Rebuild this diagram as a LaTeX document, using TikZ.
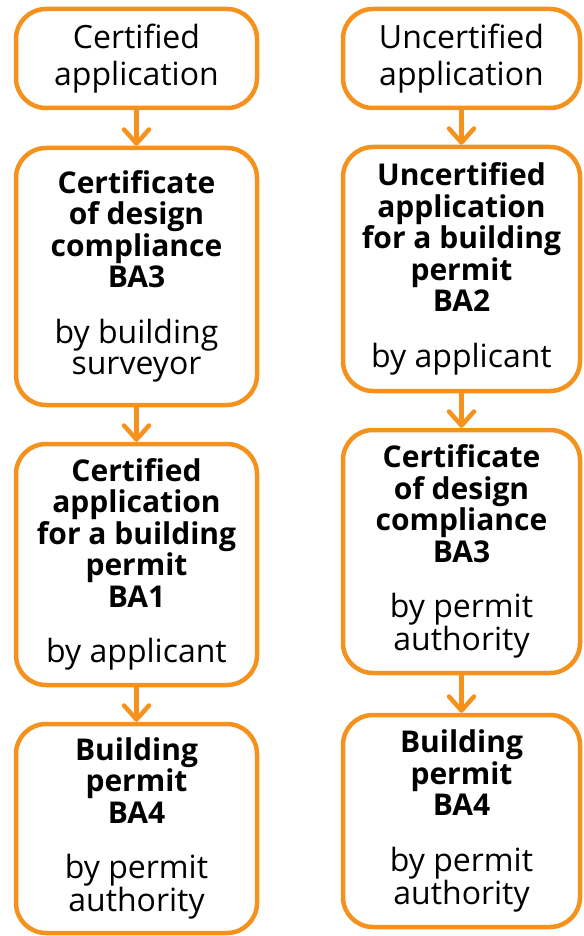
\documentclass[tikz,border=0pt]{standalone}
\usepackage{fontspec}
\setmainfont{Open Sans}
\usetikzlibrary{arrows.meta}

\newcommand{\byfont}{\fontsize{32}{31.5}\selectfont}

\tikzset{
	stepbox/.style={draw=flowOrange, line width=4.5pt, rounded corners=30pt, fill=white,
		align=center, inner sep=0pt, font=\fontsize{30}{31.5}\selectfont},
	leftbox/.style={stepbox, minimum width=241pt},
	rightbox/.style={stepbox, minimum width=237pt},
	flowarrow/.style={draw=flowOrange, line width=4.5pt, line cap=round,
		-{Straight Barb[length=14pt,width=25pt,round]}}
}

\begin{document}
\begin{tikzpicture}[x=1pt,y=-1pt]
			\definecolor{flowOrange}{HTML}{F5921E}
			\useasboundingbox (0,0) rectangle (583,936);
			% certified route
			\node[leftbox, minimum height=99pt] (certApp) at (136.5,58.5) {\byfont Certified\\[6pt]\byfont application};
			\node[leftbox, minimum height=257pt] (certBAthree) at (136.5,276.5)
				{\textbf{Certificate}\\\textbf{of design}\\\textbf{compliance}\\\textbf{BA3}\\[24pt]\byfont by building\\\byfont surveyor};
			\node[leftbox, minimum height=241pt] (certBAone) at (136.5,564.5)
				{\textbf{Certified}\\\textbf{application}\\\textbf{for a building}\\\textbf{permit}\\\textbf{BA1}\\[24pt]\byfont by applicant};
			\node[leftbox, minimum height=209pt] (certBAfour) at (136.5,828.5)
				{\textbf{Building}\\\textbf{permit}\\\textbf{BA4}\\[24pt]\byfont by permit\\\byfont authority};
			% uncertified route
			\node[rightbox, minimum height=99pt] (uncertApp) at (461.5,58.5) {\byfont Uncertified\\[6pt]\byfont application};
			\node[rightbox, minimum height=244pt] (uncertBAtwo) at (461.5,269)
				{\textbf{Uncertified}\\\textbf{application}\\\textbf{for a building}\\\textbf{permit}\\\textbf{BA2}\\[24pt]\byfont by applicant};
			\node[rightbox, minimum height=243pt] (uncertBAthree) at (461.5,551.5)
				{\textbf{Certificate}\\\textbf{of design}\\\textbf{compliance}\\\textbf{BA3}\\[24pt]\byfont by permit\\\byfont authority};
			\node[rightbox, minimum height=212pt] (uncertBAfour) at (461.5,821)
				{\textbf{Building}\\\textbf{permit}\\\textbf{BA4}\\[24pt]\byfont by permit\\\byfont authority};

			% arrows
			\draw[flowarrow] (certApp) -- (certBAthree);
			\draw[flowarrow] (certBAthree) -- (certBAone);
			\draw[flowarrow] (certBAone) -- (certBAfour);
			\draw[flowarrow] (uncertApp) -- (uncertBAtwo);
			\draw[flowarrow] (uncertBAtwo) -- (uncertBAthree);
			\draw[flowarrow] (uncertBAthree) -- (uncertBAfour);
\end{tikzpicture}
\end{document}
